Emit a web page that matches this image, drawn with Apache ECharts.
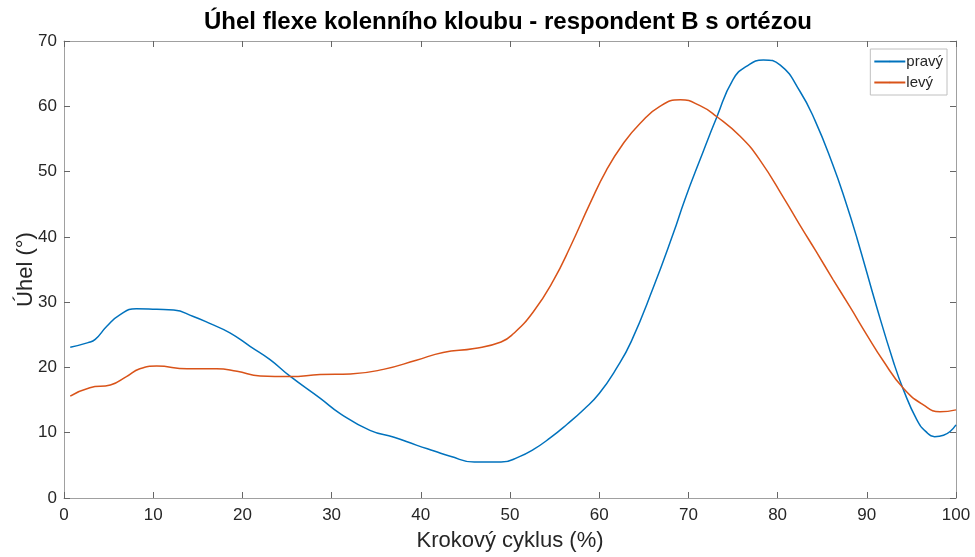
<!DOCTYPE html>
<html>
<head>
<meta charset="utf-8">
<script src="https://cdn.jsdelivr.net/npm/echarts@6/dist/echarts.min.js"></script>
<style>
  html, body { margin: 0; padding: 0; background: #fff; }
  #chart { width: 975px; height: 557px; }
</style>
</head>
<body>
<div id="chart"></div>
<script>
// Knee flexion angle over the gait cycle (%), right and left leg
const pravyX = [0.7, 2.7, 3.5, 4.8, 6.3, 8.1, 10.4, 12.3, 14.5, 16.4, 18.6, 20.9, 23.1, 25.3, 28.7, 31, 34.3, 37, 39.5, 41.5, 43.3, 46, 49, 51, 52.6, 54.5, 56.4, 58.3, 60, 62, 63.6, 66, 68.3, 69.6, 71.3, 73.2, 75, 76.5, 78.4, 80.3, 82.5, 84.2, 86.2, 87.6, 88.9, 91.1, 93, 94.1, 95.6, 96.6, 97.6, 98.6, 100];
const pravyY = [23.1, 23.8, 24.3, 26.3, 28.1, 29.0, 28.9, 28.8, 27.8, 26.7, 25.3, 23.2, 21.2, 18.7, 15.3, 12.9, 10.35, 9.3, 8.1, 7.2, 6.4, 5.5, 5.5, 6.3, 7.4, 9.2, 11.3, 13.6, 16.0, 20.0, 24.0, 32.0, 40.5, 45.7, 51.8, 58.4, 64.1, 66.1, 67.1, 66.3, 62.3, 57.8, 51.0, 45.5, 39.8, 29.3, 20.8, 16.6, 12.0, 10.2, 9.4, 9.6, 11.2];

const levyX = [0.7, 2.9, 5.2, 7.0, 8.5, 10.4, 13.8, 17.1, 19.4, 22.0, 25.3, 28.7, 32.1, 35.8, 39.5, 42.5, 46, 49, 50.4, 52.6, 54.9, 56.8, 59, 60.8, 62.7, 64.6, 66.8, 69.1, 71.3, 73.2, 75.8, 78.0, 80.8, 82.5, 84.3, 86.2, 88.1, 90, 91.8, 94.1, 96.3, 98.2, 100];
const levyY = [15.6, 16.9, 17.3, 18.6, 19.8, 20.2, 19.8, 19.8, 19.4, 18.7, 18.6, 18.9, 19.0, 19.7, 21.1, 22.3, 22.9, 23.9, 25.2, 28.5, 33.4, 38.6, 45.2, 50.2, 54.3, 57.4, 60.0, 61.0, 60.1, 58.4, 55.4, 51.8, 45.7, 41.8, 37.8, 33.5, 29.3, 25.0, 21.1, 16.8, 14.3, 13.2, 13.5];

const xTicks = [0, 10, 20, 30, 40, 50, 60, 70, 80, 90, 100];
const yTicks = [0, 10, 20, 30, 40, 50, 60, 70];

const toPairs = (xs, ys) => xs.map((x, i) => [x, ys[i]]);

const FONT = '"Liberation Sans", Arial, Helvetica, sans-serif';
const frame = { show: true, onZero: false, lineStyle: { color: '#a0a0a0', width: 1 } };
const tick = { show: true, inside: true, length: 6, lineStyle: { color: '#666', width: 1 } };

const chart = echarts.init(document.getElementById('chart'), null, { renderer: 'canvas' });
chart.setOption({
  animation: false,
  backgroundColor: '#ffffff',
  title: {
    text: 'Úhel flexe kolenního kloubu - respondent B s ortézou',
    left: 503, top: 5, textAlign: 'center',
    textStyle: { fontFamily: FONT, fontSize: 24, fontWeight: 'bold', color: '#000' }
  },
  legend: {
    orient: 'vertical', right: 28, top: 49,
    padding: [4, 4, 4, 3], itemGap: 4,
    itemWidth: 31, itemHeight: 2,
    borderColor: '#c0c0c0', borderWidth: 1, backgroundColor: '#fff',
    textStyle: { fontFamily: FONT, fontSize: 15, lineHeight: 17, color: '#262626', padding: [0, 0, 0, -4] },
    data: ['pravý', 'levý']
  },
  grid: { left: 64, right: 19, top: 41, bottom: 59, containLabel: false, outerBoundsMode: 'none' },
  xAxis: [{
    type: 'value', min: 0, max: 100, interval: 10,
    name: 'Krokový cyklus (%)', nameLocation: 'middle', nameGap: 32, nameMoveOverlap: false,
    nameTextStyle: { fontFamily: FONT, fontSize: 22, color: '#262626' },
    axisLine: frame, axisTick: tick,
    axisLabel: { fontFamily: FONT, fontSize: 17, color: '#262626', margin: 9,
      formatter: v => xTicks.includes(v) ? String(v) : '' },
    splitLine: { show: false }
  }, {
    type: 'value', position: 'top', min: 0, max: 100, interval: 10,
    axisLine: frame, axisTick: tick, axisLabel: { show: false }, splitLine: { show: false }
  }],
  yAxis: [{
    type: 'value', min: 0, max: 70, interval: 10,
    name: 'Úhel (°)', nameLocation: 'middle', nameGap: 27, nameRotate: 90, nameMoveOverlap: false,
    nameTextStyle: { fontFamily: FONT, fontSize: 22, color: '#262626' },
    axisLine: frame, axisTick: tick,
    axisLabel: { fontFamily: FONT, fontSize: 17, color: '#262626', margin: 7,
      formatter: v => yTicks.includes(v) ? String(v) : '' },
    splitLine: { show: false }
  }, {
    type: 'value', position: 'right', min: 0, max: 70, interval: 10,
    axisLine: frame, axisTick: tick, axisLabel: { show: false }, splitLine: { show: false }
  }],
  series: [{
    name: 'pravý', type: 'line', data: toPairs(pravyX, pravyY),
    smooth: 0.5, symbol: 'none', color: '#0072BD',
    lineStyle: { width: 1.5, color: '#0072BD' }
  }, {
    name: 'levý', type: 'line', data: toPairs(levyX, levyY),
    smooth: 0.5, symbol: 'none', color: '#D95319',
    lineStyle: { width: 1.5, color: '#D95319' }
  }]
});
</script>
</body>
</html>
